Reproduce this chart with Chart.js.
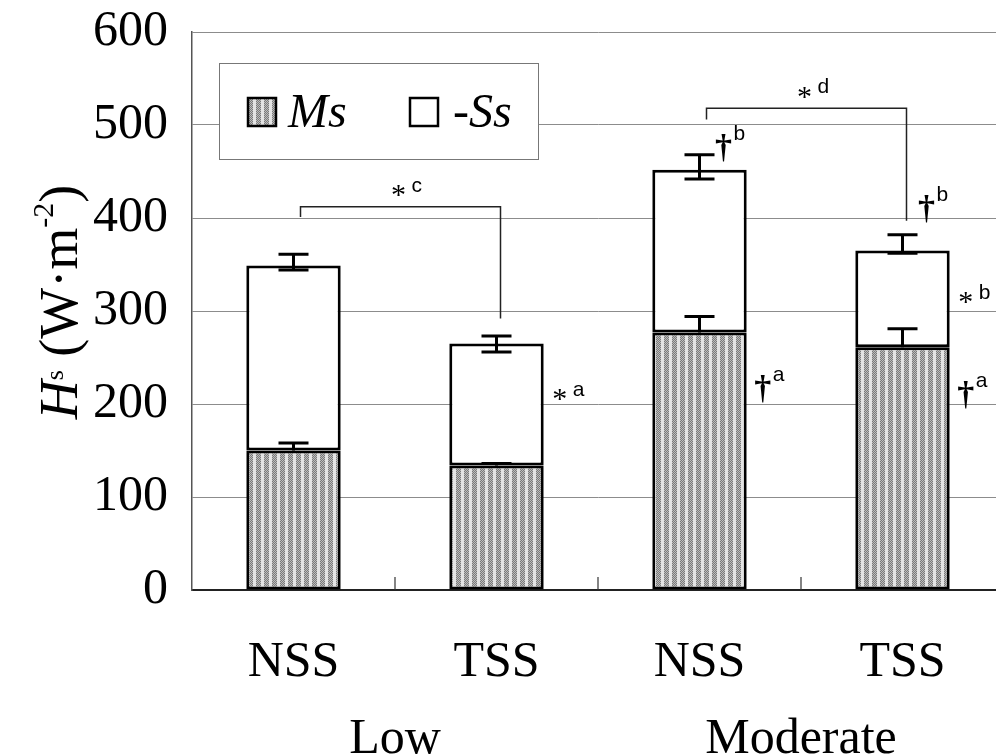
<!DOCTYPE html>
<html>
<head>
<meta charset="utf-8">
<script src="https://cdn.jsdelivr.net/npm/chart.js@4.4.0/dist/chart.umd.min.js"></script>
<style>
  html, body { margin: 0; padding: 0; background: #fff; overflow: hidden; }
  #wrap { width: 1012px; height: 756px; }
  canvas { display: block; }
</style>
</head>
<body>
<div id="wrap"><canvas id="chart" width="1012" height="756"></canvas></div>
<script>
// sensible heat by condition (W·m-2)
const categories = ['NSS', 'TSS', 'NSS', 'TSS'];
const groups = ['Low', 'Moderate'];
const msValues = [150, 134, 277, 261];
const ssValues = [199, 131, 175, 104];
const msErr = [8, 2, 17, 20];
const totalErrUp = [12, 8, 16, 17];
const totalErrDown = [5, 9, 10, 3];
const yTicks = [0, 100, 200, 300, 400, 500, 600];

// brackets between bar pairs, heights in W·m-2
const brackets = [
  { from: 0, to: 1, top: 412, left: 401, right: 292, letter: 'c' },
  { from: 2, to: 3, top: 518, left: 506, right: 397, letter: 'd' }
];
// significance marks beside the bars
const marks = [
  { bar: 1, value: 210, sym: '*', letter: 'a', place: 'right' },
  { bar: 2, value: 475, sym: '†', letter: 'b', place: 'above' },
  { bar: 2, value: 216, sym: '†', letter: 'a', place: 'right' },
  { bar: 3, value: 410, sym: '†', letter: 'b', place: 'above' },
  { bar: 3, value: 314, sym: '*', letter: 'b', place: 'right' },
  { bar: 3, value: 210, sym: '†', letter: 'a', place: 'right' }
];

const SERIF = '"Liberation Serif", "Times New Roman", serif';
const SANS = '"Liberation Sans", Arial, sans-serif';

function makeHatch() {
  const c = document.createElement('canvas');
  c.width = 8; c.height = 2;
  const g = c.getContext('2d');
  for (let x = 0; x < 8; x++) {
    for (let y = 0; y < 2; y++) {
      g.fillStyle = x < 5 ? ((x + y) % 2 ? '#7a7a7a' : '#bdbdbd') : '#e4e4e4';
      g.fillRect(x, y, 1, 1);
    }
  }
  return g.createPattern(c, 'repeat');
}
const hatch = makeHatch();

// symbol centred on (cx, cy) with a small letter after it
function drawMark(ctx, sym, letter, cx, cy) {
  ctx.fillStyle = '#000';
  ctx.textAlign = 'center';
  ctx.textBaseline = 'alphabetic';
  ctx.font = (sym === '*' ? '30px ' : 'bold 34px ') + SERIF;
  const m = ctx.measureText(sym);
  const base = cy + (m.actualBoundingBoxAscent - m.actualBoundingBoxDescent) / 2;
  ctx.fillText(sym, cx, base);
  ctx.textAlign = 'left';
  ctx.font = '21px ' + SANS;
  if (sym === '*') ctx.fillText(letter, cx + 13, cy + 1);
  else ctx.fillText(letter, cx + 10, cy - 8);
}

const extras = {
  id: 'extras',
  afterDatasetsDraw(chart) {
    const { ctx, chartArea: area, scales: { x, y } } = chart;
    const bars = chart.getDatasetMeta(0).data;
    ctx.save();

    // error bars
    ctx.strokeStyle = '#000';
    ctx.lineWidth = 3;
    const cap = 15;
    categories.forEach((c, i) => {
      const cx = bars[i].x;
      const msTop = y.getPixelForValue(msValues[i]);
      const msHi = y.getPixelForValue(msValues[i] + msErr[i]);
      const tot = msValues[i] + ssValues[i];
      const hi = y.getPixelForValue(tot + totalErrUp[i]);
      const lo = y.getPixelForValue(tot - totalErrDown[i]);
      ctx.beginPath();
      ctx.moveTo(cx, msTop); ctx.lineTo(cx, msHi);
      ctx.moveTo(cx - cap, msHi); ctx.lineTo(cx + cap, msHi);
      ctx.moveTo(cx, lo); ctx.lineTo(cx, hi);
      ctx.moveTo(cx - cap, hi); ctx.lineTo(cx + cap, hi);
      ctx.moveTo(cx - cap, lo); ctx.lineTo(cx + cap, lo);
      ctx.stroke();
    });

    // small ticks between categories
    ctx.lineWidth = 1.2;
    ctx.strokeStyle = '#333';
    for (let i = 0; i < categories.length - 1; i++) {
      const bx = (x.getPixelForValue(i) + x.getPixelForValue(i + 1)) / 2;
      ctx.beginPath();
      ctx.moveTo(bx, area.bottom);
      ctx.lineTo(bx, area.bottom - 13);
      ctx.stroke();
    }

    // brackets
    ctx.lineWidth = 1.5;
    ctx.strokeStyle = '#222';
    brackets.forEach(b => {
      const x1 = bars[b.from].x + 7;
      const x2 = bars[b.to].x + 4;
      const yt = y.getPixelForValue(b.top);
      ctx.beginPath();
      ctx.moveTo(x1, y.getPixelForValue(b.left));
      ctx.lineTo(x1, yt);
      ctx.lineTo(x2, yt);
      ctx.lineTo(x2, y.getPixelForValue(b.right));
      ctx.stroke();
      drawMark(ctx, '*', b.letter, (x1 + x2) / 2 - 2, yt - 16);
    });

    marks.forEach(mk => {
      const bar = bars[mk.bar];
      const cx = mk.place === 'right' ? bar.x + bar.width / 2 + 16 : bar.x + 24;
      drawMark(ctx, mk.sym, mk.letter, cx, y.getPixelForValue(mk.value));
    });

    // group names under the category labels
    ctx.fillStyle = '#000';
    ctx.textAlign = 'center';
    ctx.textBaseline = 'alphabetic';
    ctx.font = '50px ' + SERIF;
    groups.forEach((g, k) => {
      const gx = (x.getPixelForValue(2 * k) + x.getPixelForValue(2 * k + 1)) / 2;
      ctx.fillText(g, gx, 753);
    });

    // legend box
    const lx = area.left + 27, ly = area.top + 31, lw = 319, lh = 96;
    ctx.fillStyle = '#fff';
    ctx.fillRect(lx, ly, lw, lh);
    ctx.strokeStyle = '#777';
    ctx.lineWidth = 1;
    ctx.strokeRect(lx + 0.5, ly + 0.5, lw, lh);
    const ds = chart.data.datasets;
    const items = [{ sx: lx + 29, tx: lx + 69 }, { sx: lx + 191, tx: lx + 234 }];
    items.forEach((it, k) => {
      ctx.fillStyle = ds[k].backgroundColor;
      ctx.fillRect(it.sx, ly + 35, 28, 28);
      ctx.strokeStyle = '#000';
      ctx.lineWidth = 2.5;
      ctx.strokeRect(it.sx, ly + 35, 28, 28);
      ctx.fillStyle = '#000';
      ctx.textAlign = 'left';
      ctx.font = 'italic 48px ' + SERIF;
      ctx.fillText(ds[k].label, it.tx, ly + 64);
    });

    // y axis title: Hs (W·m-2)
    const parts = [
      { t: 'H', f: 'italic 54px ' + SERIF, dy: 0 },
      { t: 's', f: '26px ' + SERIF, dy: -14 },
      { t: ' (W\u00b7m', f: '54px ' + SERIF, dy: 0 },
      { t: '-2', f: '30px ' + SERIF, dy: -24 },
      { t: ')', f: '54px ' + SERIF, dy: 0 }
    ];
    let total = 0;
    parts.forEach(p => { ctx.font = p.f; p.w = ctx.measureText(p.t).width; total += p.w; });
    ctx.translate(77, 302);
    ctx.rotate(-Math.PI / 2);
    let px = -total / 2;
    ctx.textAlign = 'left';
    parts.forEach(p => {
      ctx.font = p.f;
      ctx.fillText(p.t, px, p.dy);
      px += p.w;
    });
    ctx.restore();
  }
};

new Chart(document.getElementById('chart'), {
  type: 'bar',
  data: {
    labels: categories,
    datasets: [
      { label: 'Ms', data: msValues, backgroundColor: hatch, borderColor: '#000', borderWidth: 3, borderSkipped: false },
      { label: '-Ss', data: ssValues, backgroundColor: '#fff', borderColor: '#000', borderWidth: 3, borderSkipped: false }
    ]
  },
  options: {
    responsive: false,
    animation: false,
    layout: { padding: { top: 32, right: 8, left: 0, bottom: 0 } },
    datasets: { bar: { barPercentage: 0.465, categoryPercentage: 1 } },
    plugins: { legend: { display: false }, tooltip: { enabled: false } },
    scales: {
      x: {
        stacked: true,
        grid: { display: true, drawOnChartArea: false, drawTicks: false },
        border: { color: '#222', width: 2 },
        ticks: { color: '#000', font: { family: SERIF, size: 50 }, padding: 43 },
        afterFit(s) { s.height = 166; s.paddingLeft = 0; s.paddingRight = 0; }
      },
      y: {
        stacked: true,
        min: 0,
        max: 600,
        afterBuildTicks(s) { s.ticks = yTicks.map(v => ({ value: v })); },
        ticks: { color: '#000', font: { family: SERIF, size: 50 }, padding: 24 },
        grid: { color: '#8c8c8c', lineWidth: 1, drawTicks: false },
        border: { color: '#555', width: 1.5 },
        afterFit(s) { s.width = 192; s.paddingTop = 0; s.paddingBottom = 0; }
      }
    }
  },
  plugins: [extras]
});
</script>
</body>
</html>
